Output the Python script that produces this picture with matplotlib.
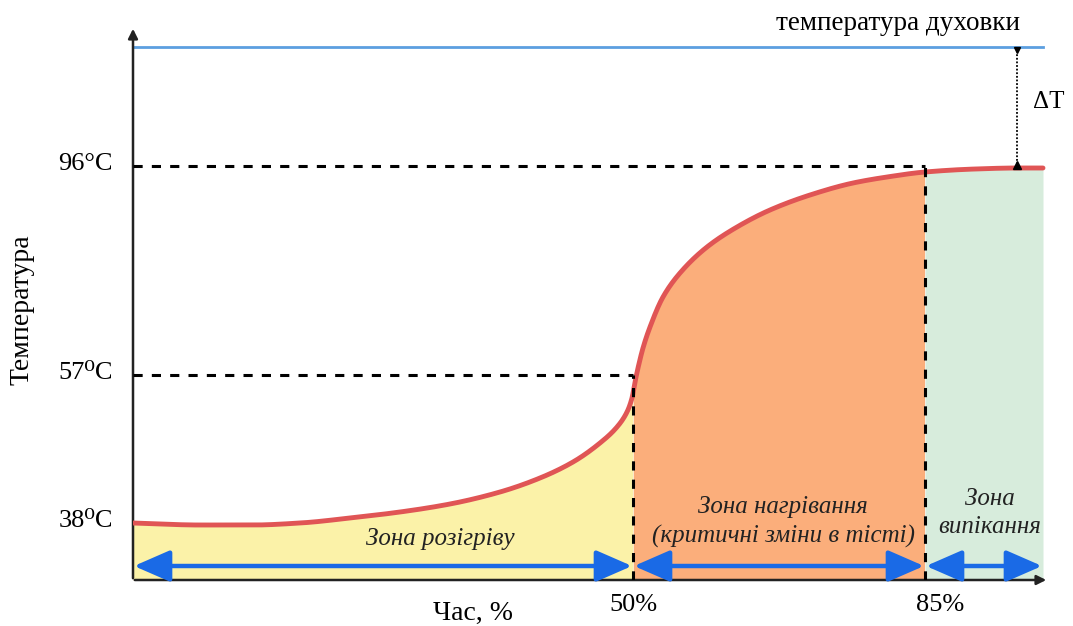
import numpy as np
import matplotlib.pyplot as plt

# time axis position (px from y-axis) and temperature height (px above x-axis)
curve_x = [0, 67, 120, 167, 217, 267, 317, 367, 407, 440, 467, 484, 494, 499,
           502, 505, 510, 517, 530, 547, 574, 604, 637, 677, 720, 754, 792,
           842, 884, 910]
curve_y = [57, 55, 55, 57, 62, 68, 76, 88, 102, 118, 137, 153, 168, 182,
           198, 212, 232, 253, 283, 307, 333, 353, 370, 385, 397, 403, 408,
           411, 412, 412]

zone_edges = [0, 500, 792, 910]
zone_colors = ['#fbf2a8', '#fbae7b', '#d7ecdc']
zone_labels = ['Зона розігріву', 'Зона нагрівання\n(критичні зміни в тісті)',
               'Зона\nвипікання']

tick_pos = [500, 792]
tick_labels = ['50%', '85%']
temp_levels = [57, 205, 414]
temp_labels = ['38⁰C', '57⁰C', '96°C']
oven_level = 533
delta_x = 884

serif = ['Liberation Serif', 'DejaVu Serif']


def pchip(x, y, xn):
    # monotone cubic (Fritsch-Carlson) so the curve stays smooth
    x = np.asarray(x, float)
    y = np.asarray(y, float)
    h = np.diff(x)
    d = np.diff(y) / h
    m = np.zeros_like(y)
    for k in range(1, len(x) - 1):
        if d[k - 1] * d[k] > 0:
            w1 = 2 * h[k] + h[k - 1]
            w2 = h[k] + 2 * h[k - 1]
            m[k] = (w1 + w2) / (w1 / d[k - 1] + w2 / d[k])
    m[0] = d[0]
    m[-1] = d[-1]
    idx = np.clip(np.searchsorted(x, xn) - 1, 0, len(x) - 2)
    t = (xn - x[idx]) / h[idx]
    h00 = 2 * t**3 - 3 * t**2 + 1
    h10 = t**3 - 2 * t**2 + t
    h01 = -2 * t**3 + 3 * t**2
    h11 = t**3 - t**2
    return (h00 * y[idx] + h10 * h[idx] * m[idx] + h01 * y[idx + 1]
            + h11 * h[idx] * m[idx + 1])


fig = plt.figure(figsize=(10.73, 6.26), dpi=100)
ax = fig.add_axes([133 / 1073, 46 / 626, 914 / 1073, 552 / 626])
ax.set_xlim(0, 914)
ax.set_ylim(0, 552)
ax.axis('off')

xf = np.linspace(0, 910, 2000)
yf = pchip(curve_x, curve_y, xf)

# coloured zones under the curve
for i in range(3):
    m = (xf >= zone_edges[i]) & (xf <= zone_edges[i + 1])
    ax.fill_between(xf[m], 0, yf[m], color=zone_colors[i], lw=0, zorder=1)

ax.plot(xf, yf, color='#e05555', lw=3.5, solid_capstyle='round', zorder=4)

# oven temperature line
ax.plot([0, 910], [oven_level, oven_level], color='#5c9fe0', lw=2, zorder=3)

# dashed guides
dash = dict(color='black', lw=2.2, ls=(0, (3, 3)), zorder=5)
ax.plot([0, 792], [temp_levels[2], temp_levels[2]], **dash)
ax.plot([0, 500], [temp_levels[1], temp_levels[1]], **dash)
ax.plot([500, 500], [0, temp_levels[1]], **dash)
ax.plot([792, 792], [0, temp_levels[2]], **dash)

# delta T marker
yd = float(pchip(curve_x, curve_y, np.array([delta_x]))[0])
ax.plot([delta_x, delta_x], [yd, oven_level], color='black', lw=1.3,
        ls=(0, (1, 1)), zorder=5)
ax.plot([delta_x], [yd + 3], marker='^', color='black', ms=6, zorder=6)
ax.plot([delta_x], [oven_level - 3], marker='v', color='black', ms=5, zorder=6)
ax.text(916, 478, 'ΔT', fontsize=18, family=serif, ha='center', va='center',
        clip_on=False)

# axes with arrows
ax.annotate('', xy=(0, 554), xytext=(0, -1),
            arrowprops=dict(arrowstyle='-|>', color='#222222', lw=1.8,
                            mutation_scale=14), annotation_clip=False)
ax.annotate('', xy=(916, 0), xytext=(-1, 0),
            arrowprops=dict(arrowstyle='-|>', color='#222222', lw=1.8,
                            mutation_scale=14), annotation_clip=False)

# zone span arrows
for i in range(3):
    ax.annotate('', xy=(zone_edges[i] + 1, 14), xytext=(zone_edges[i + 1] - 1, 14),
                arrowprops=dict(arrowstyle='<|-|>,head_length=0.55,head_width=0.24',
                                color='#1a6ae6', lw=3.2, mutation_scale=40,
                                shrinkA=0, shrinkB=0),
                zorder=6)

# zone labels
ax.text(307, 41, zone_labels[0], fontsize=18, style='italic', family=serif,
        ha='center', va='center', color='#222222')
ax.text(650, 58, zone_labels[1], fontsize=18, style='italic', family=serif,
        ha='center', va='center', color='#222222', linespacing=1.35)
ax.text(857, 67, zone_labels[2], fontsize=18, style='italic', family=serif,
        ha='center', va='center', color='#222222', linespacing=1.35)

# tick labels
for pos, lab in zip(tick_pos, tick_labels):
    ax.text(pos + (0 if pos == 500 else 15), -25, lab, fontsize=19, family=serif,
            ha='center', va='center', clip_on=False)
for lev, lab in zip(temp_levels, temp_labels):
    ax.text(-20, lev + 2, lab, fontsize=19, family=serif, ha='right', va='center',
            clip_on=False)

ax.text(340, -33, 'Час, %', fontsize=20, family=serif, ha='center', va='center',
        clip_on=False)
ax.text(-111, 270, 'Температура', fontsize=20, family=serif, rotation=90,
        ha='center', va='center', clip_on=False)
ax.text(765, 556, 'температура духовки', fontsize=19.5, family=serif,
        ha='center', va='center', clip_on=False)

fig.savefig('out.png', dpi=100)
